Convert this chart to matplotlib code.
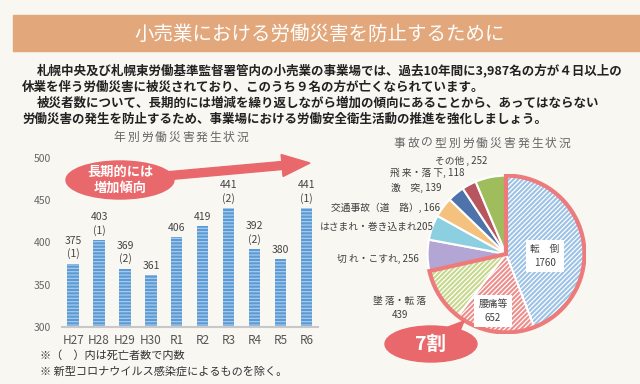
import numpy as np
import matplotlib
matplotlib.use("Agg")
import matplotlib.pyplot as plt
from matplotlib.patches import Rectangle, Ellipse, Wedge, Polygon, FancyArrow

plt.rcParams['font.family'] = ['Noto Sans CJK JP', 'DejaVu Sans']
plt.rcParams['hatch.linewidth'] = 0.9

# data
years = ['H27', 'H28', 'H29', 'H30', 'R1', 'R2', 'R3', 'R4', 'R5', 'R6']
counts = [375, 403, 369, 361, 406, 419, 441, 392, 380, 441]
deaths = [1, 1, 2, 0, 0, 0, 2, 2, 0, 1]

pie_names = ['転　倒', '腰痛等', '墜 落・転 落', '切 れ・こすれ', 'はさまれ・巻き込まれ',
             '交通事故（道　路）', '激　突', '飛 来・落 下', 'その他 ']
pie_values = [1760, 652, 439, 256, 205, 166, 139, 118, 252]
pie_seps = ['\n', '\n', '\n', ', ', '', ', ', ', ', ', ', ', ']
pie_colors = ['#9cc2e6', '#ec8f8c', '#c6d88c', '#b3a6d4', '#8ccfe0',
              '#f4c27e', '#4d73aa', '#b7565e', '#9fbd5c']

bg = '#f8f7f2'
coral = '#e8686b'

fig = plt.figure(figsize=(6.4, 3.84), dpi=100, facecolor=bg)

# ---- bar chart
ax = fig.add_axes([62/640, 1-327/384, 256/640, 169/384])
ax.set_facecolor('none')
x = np.arange(len(years))
ax.bar(x, counts, width=0.44, color='#5b9bd5', edgecolor='#a8caec',
       hatch='-----', linewidth=0)
ax.set_xlim(-0.43, 9.45)
ax.set_ylim(300, 500)
ax.set_yticks([300, 350, 400, 450, 500])
ax.set_xticks(x)
ax.set_xticklabels(years)
ax.tick_params(axis='y', length=0, pad=8, labelsize=7.5, labelcolor='#666666')
ax.tick_params(axis='x', length=0, pad=5, labelsize=8.5, labelcolor='#555555')
for s in ['left', 'right', 'top']:
    ax.spines[s].set_visible(False)
ax.spines['bottom'].set_color('#c8c8c8')
ax.spines['bottom'].set_linewidth(1.5)
for xi, c, d in zip(x, counts, deaths):
    if d:
        ax.annotate(f'({d})', (xi, c), xytext=(0, 7), textcoords='offset points',
                    ha='center', va='center', fontsize=7.5, color='#444444')
        ax.annotate(str(c), (xi, c), xytext=(0, 16.5), textcoords='offset points',
                    ha='center', va='center', fontsize=7.5, color='#444444')
    else:
        ax.annotate(str(c), (xi, c), xytext=(0, 7), textcoords='offset points',
                    ha='center', va='center', fontsize=7.5, color='#444444')

# ---- pie chart
axp = fig.add_axes([426/640, 1-334/384, 160/640, 160/384])
wedges, _ = axp.pie(pie_values, colors=pie_colors, startangle=90, counterclock=False,
                    wedgeprops=dict(edgecolor='white', linewidth=1.5))
for w in wedges[:3]:
    w.set_hatch('///////')
axp.set_xlim(-1.02, 1.02)
axp.set_ylim(-1.02, 1.02)
# outline around the top three categories
frac = np.cumsum(pie_values) / sum(pie_values)
end_angle = 90 - 360 * frac[2]
axp.add_patch(Wedge((0, 0), 1.0, end_angle, 90, fill=False,
                    edgecolor='#ee7b7b', linewidth=3, zorder=5))

# ---- overlay for decorations and text
ov = fig.add_axes([0, 0, 1, 1], zorder=10)
ov.set_xlim(0, 640)
ov.set_ylim(384, 0)
ov.axis('off')
ov.patch.set_visible(False)

ov.add_patch(Rectangle((13, 15), 627, 36, color='#e3a77c', zorder=1))
ov.text(320, 34, '小売業における労働災害を防止するために', ha='center', va='center',
        fontsize=14, color='white')

body = [
    (37, 70, '札幌中央及び札幌東労働基準監督署管内の小売業の事業場では、過去10年間に3,987名の方が４日以上の'),
    (22, 87, '休業を伴う労働災害に被災されており、このうち９名の方が亡くなられています。'),
    (37, 103, '被災者数について、長期的には増減を繰り返しながら増加の傾向にあることから、あってはならない'),
    (22, 119, '労働災害の発生を防止するため、事業場における労働安全衛生活動の推進を強化しましょう。'),
]
for bx, by, t in body:
    ov.text(bx, by, t, ha='left', va='center', fontsize=9, color='#222222',
            fontweight='bold')


def spaced(xc, y, s, pitch, **kw):
    n = len(s)
    for i, ch in enumerate(s):
        ov.text(xc + (i - (n - 1) / 2) * pitch, y, ch, ha='center', va='center', **kw)


spaced(181, 137, '年別労働災害発生状況', 13.7, fontsize=8.5, color='#666666')
spaced(482, 143, '事故の型別労働災害発生状況', 13.8, fontsize=8.5, color='#666666')

# long-term trend arrow
ov.add_patch(FancyArrow(165, 176, 145, -13, width=8, head_width=22, head_length=28,
                        length_includes_head=True, color=coral, zorder=2))
ov.add_patch(Ellipse((120, 180), 108, 38, color=coral, zorder=3))
ov.text(120, 172, '長期的には', ha='center', va='center', fontsize=9.5,
        color='white', fontweight='bold', zorder=4)
ov.text(120, 188, '増加傾向', ha='center', va='center', fontsize=9.5,
        color='white', fontweight='bold', zorder=4)

# footnotes
ov.text(40, 356, '※（　）内は死亡者数で内数', ha='left', va='center', fontsize=8,
        color='#333333')
ov.text(40, 371, '※ 新型コロナウイルス感染症によるものを除く。', ha='left', va='center',
        fontsize=8, color='#333333')

# pie labels
label_pos = [(545, 256), (493, 311), (400, 308), (378, 259), (377, 227),
             (386, 208), (416, 188), (427, 173), (461, 161)]
for i, (name, v, sep) in enumerate(zip(pie_names, pie_values, pie_seps)):
    lx, ly = label_pos[i]
    kw = dict(ha='center', va='center', fontsize=7, color='#404040', linespacing=1.5)
    if i < 2:
        kw['bbox'] = dict(boxstyle='square,pad=0.4', facecolor='white', edgecolor='none')
    ov.text(lx, ly, f'{name}{sep}{v}', **kw)

# 7割 bubble
ov.add_patch(Polygon([[440, 330], [464, 321], [458, 336]], closed=True, color=coral, zorder=2))
ov.add_patch(Ellipse((431, 344), 92, 36, color=coral, zorder=3))
ov.text(431, 344, '7割', ha='center', va='center', fontsize=14, color='white',
        fontweight='bold', zorder=4)

fig.savefig('out.png', dpi=100, facecolor=bg)
